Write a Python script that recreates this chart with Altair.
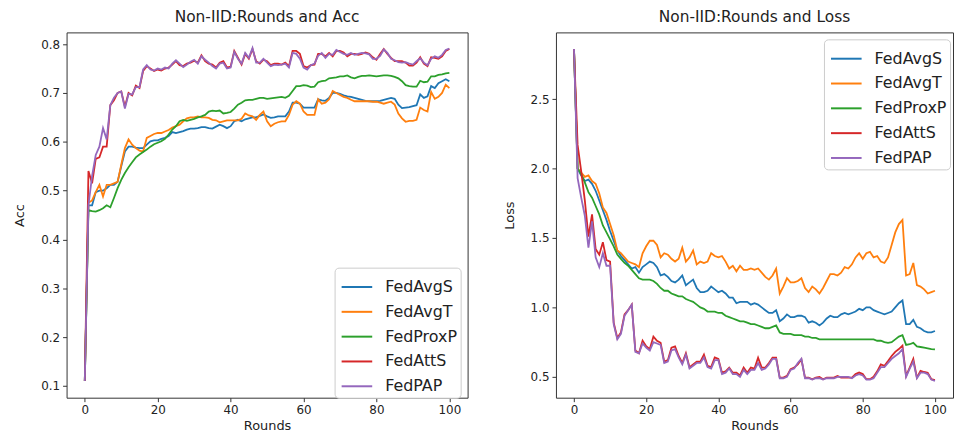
import altair as alt
import pandas as pd

rounds = list(range(101))
methods = ["FedAvgS", "FedAvgT", "FedProxP", "FedAttS", "FedPAP"]
colors = ["#1f77b4", "#ff7f0e", "#2ca02c", "#d62728", "#9467bd"]

acc_fedavgs = [0.11, 0.47, 0.47, 0.497, 0.50, 0.50, 0.505, 0.512, 0.512, 0.518,
               0.550, 0.580, 0.590, 0.590, 0.588, 0.587, 0.587, 0.594, 0.601, 0.603,
               0.603, 0.606, 0.608, 0.612, 0.620, 0.618, 0.620, 0.622, 0.625, 0.627,
               0.627, 0.628, 0.630, 0.630, 0.628, 0.627, 0.631, 0.635, 0.632, 0.628,
               0.632, 0.642, 0.645, 0.642, 0.646, 0.648, 0.650, 0.650, 0.653, 0.656,
               0.652, 0.649, 0.650, 0.652, 0.652, 0.652, 0.662, 0.680, 0.680, 0.678,
               0.670, 0.670, 0.670, 0.670, 0.687, 0.685, 0.684, 0.690, 0.700, 0.700,
               0.698, 0.695, 0.693, 0.692, 0.690, 0.688, 0.686, 0.684, 0.683, 0.683,
               0.683, 0.684, 0.686, 0.688, 0.690, 0.688, 0.676, 0.669, 0.670, 0.671,
               0.673, 0.675, 0.697, 0.690, 0.693, 0.714, 0.710, 0.720, 0.724, 0.728,
               0.724]
acc_fedavgt = [0.11, 0.475, 0.48, 0.497, 0.512, 0.488, 0.512, 0.512, 0.515, 0.518,
               0.553, 0.587, 0.605, 0.594, 0.587, 0.582, 0.580, 0.608, 0.612, 0.616,
               0.618, 0.618, 0.621, 0.624, 0.629, 0.632, 0.635, 0.642, 0.648, 0.650,
               0.650, 0.652, 0.650, 0.650, 0.649, 0.645, 0.644, 0.640, 0.642, 0.644,
               0.644, 0.644, 0.644, 0.647, 0.658, 0.654, 0.652, 0.645, 0.655, 0.662,
               0.642, 0.632, 0.637, 0.640, 0.642, 0.642, 0.655, 0.676, 0.683, 0.678,
               0.662, 0.655, 0.655, 0.655, 0.687, 0.678, 0.680, 0.687, 0.704, 0.700,
               0.696, 0.692, 0.690, 0.686, 0.683, 0.683, 0.683, 0.683, 0.683, 0.682,
               0.682, 0.680, 0.678, 0.680, 0.682, 0.676, 0.658, 0.648, 0.641, 0.643,
               0.643, 0.645, 0.670, 0.665, 0.662, 0.702, 0.688, 0.692, 0.700, 0.717,
               0.710]
acc_fedproxp = [0.11, 0.460, 0.458, 0.457, 0.460, 0.464, 0.470, 0.466, 0.485, 0.505,
                0.522, 0.536, 0.548, 0.558, 0.568, 0.574, 0.579, 0.584, 0.590, 0.595,
                0.598, 0.601, 0.606, 0.615, 0.625, 0.632, 0.642, 0.645, 0.643, 0.645,
                0.647, 0.650, 0.652, 0.655, 0.662, 0.664, 0.663, 0.664, 0.658, 0.659,
                0.661, 0.668, 0.676, 0.680, 0.685, 0.686, 0.686, 0.688, 0.690, 0.690,
                0.688, 0.689, 0.690, 0.691, 0.692, 0.690, 0.694, 0.704, 0.714, 0.714,
                0.716, 0.715, 0.712, 0.713, 0.722, 0.724, 0.725, 0.730, 0.731, 0.732,
                0.734, 0.734, 0.736, 0.732, 0.730, 0.733, 0.735, 0.735, 0.736, 0.735,
                0.734, 0.735, 0.736, 0.736, 0.735, 0.733, 0.730, 0.724, 0.716, 0.714,
                0.713, 0.713, 0.725, 0.722, 0.723, 0.734, 0.734, 0.737, 0.738, 0.740,
                0.741]
acc_fedatts = [0.11, 0.54, 0.515, 0.565, 0.568, 0.590, 0.590, 0.675, 0.685, 0.700,
               0.703, 0.672, 0.700, 0.695, 0.715, 0.710, 0.745, 0.755, 0.750, 0.745,
               0.748, 0.746, 0.750, 0.752, 0.758, 0.765, 0.757, 0.755, 0.760, 0.762,
               0.766, 0.762, 0.777, 0.765, 0.760, 0.758, 0.752, 0.762, 0.765, 0.752,
               0.754, 0.786, 0.772, 0.758, 0.780, 0.770, 0.790, 0.765, 0.760, 0.768,
               0.765, 0.757, 0.760, 0.760, 0.758, 0.762, 0.755, 0.786, 0.786, 0.780,
               0.755, 0.752, 0.757, 0.758, 0.780, 0.780, 0.775, 0.782, 0.775, 0.786,
               0.786, 0.783, 0.775, 0.780, 0.780, 0.778, 0.780, 0.783, 0.780, 0.773,
               0.768, 0.780, 0.790, 0.780, 0.772, 0.765, 0.765, 0.765, 0.762, 0.756,
               0.756, 0.762, 0.773, 0.760, 0.755, 0.773, 0.772, 0.770, 0.775, 0.786,
               0.790]
acc_fedpap = [0.11, 0.47, 0.53, 0.573, 0.59, 0.628, 0.605, 0.675, 0.69, 0.70,
              0.703, 0.668, 0.698, 0.697, 0.712, 0.712, 0.748, 0.757, 0.748, 0.746,
              0.750, 0.748, 0.752, 0.750, 0.760, 0.767, 0.760, 0.753, 0.758, 0.764,
              0.768, 0.760, 0.775, 0.768, 0.762, 0.755, 0.750, 0.760, 0.762, 0.750,
              0.752, 0.784, 0.770, 0.760, 0.782, 0.772, 0.792, 0.762, 0.762, 0.770,
              0.762, 0.755, 0.758, 0.757, 0.758, 0.760, 0.752, 0.782, 0.780, 0.770,
              0.752, 0.748, 0.757, 0.760, 0.776, 0.782, 0.772, 0.780, 0.778, 0.788,
              0.784, 0.780, 0.778, 0.782, 0.778, 0.780, 0.782, 0.781, 0.779, 0.770,
              0.770, 0.776, 0.789, 0.782, 0.770, 0.767, 0.763, 0.762, 0.763, 0.760,
              0.758, 0.765, 0.771, 0.762, 0.757, 0.770, 0.775, 0.772, 0.778, 0.788,
              0.791]

loss_fedavgs = [2.86, 2.00, 1.95, 1.91, 1.92, 1.89, 1.84, 1.77, 1.70, 1.63,
                1.55, 1.48, 1.41, 1.37, 1.34, 1.31, 1.28, 1.29, 1.25, 1.29,
                1.31, 1.33, 1.32, 1.29, 1.23, 1.24, 1.22, 1.19, 1.18, 1.20,
                1.23, 1.16, 1.18, 1.20, 1.14, 1.11, 1.11, 1.12, 1.15, 1.13,
                1.11, 1.12, 1.10, 1.07, 1.07, 1.03, 1.04, 1.04, 1.04, 1.02,
                1.03, 1.02, 1.00, 0.98, 0.96, 0.96, 0.98, 0.90, 0.92, 0.95,
                0.93, 0.93, 0.94, 0.94, 0.93, 0.89, 0.90, 0.89, 0.87, 0.89,
                0.92, 0.94, 0.93, 0.93, 0.95, 0.96, 0.95, 0.96, 0.97, 0.99,
                0.98, 1.00, 1.00, 0.98, 0.97, 0.96, 0.95, 0.96, 0.97, 1.00,
                1.03, 1.05, 0.88, 0.88, 0.91, 0.86, 0.85, 0.83, 0.82, 0.82,
                0.83]
loss_fedavgt = [2.86, 2.00, 1.97, 1.94, 1.95, 1.91, 1.89, 1.82, 1.72, 1.68,
                1.60, 1.52, 1.41, 1.39, 1.36, 1.33, 1.32, 1.31, 1.29, 1.39,
                1.44, 1.48, 1.48, 1.45, 1.36, 1.39, 1.38, 1.35, 1.33, 1.35,
                1.43, 1.33, 1.36, 1.41, 1.31, 1.33, 1.32, 1.33, 1.39, 1.37,
                1.36, 1.37, 1.33, 1.28, 1.30, 1.26, 1.30, 1.27, 1.27, 1.28,
                1.27, 1.28, 1.25, 1.22, 1.20, 1.23, 1.28, 1.10, 1.15, 1.21,
                1.18, 1.18, 1.19, 1.21, 1.14, 1.11, 1.15, 1.13, 1.10, 1.14,
                1.19, 1.24, 1.24, 1.23, 1.25, 1.29, 1.28, 1.31, 1.36, 1.39,
                1.35, 1.39, 1.40, 1.36, 1.37, 1.33, 1.32, 1.36, 1.45, 1.54,
                1.60, 1.63, 1.23, 1.24, 1.32, 1.16, 1.15, 1.13, 1.10, 1.11,
                1.12]
loss_fedproxp = [2.86, 2.00, 1.96, 1.90, 1.83, 1.79, 1.73, 1.67, 1.59, 1.54,
                 1.49, 1.44, 1.38, 1.35, 1.32, 1.30, 1.27, 1.24, 1.21, 1.20,
                 1.20, 1.20, 1.19, 1.17, 1.14, 1.12, 1.12, 1.10, 1.09, 1.08,
                 1.08, 1.06, 1.05, 1.04, 1.02, 1.00, 0.99, 0.97, 0.97, 0.97,
                 0.96, 0.96, 0.94, 0.93, 0.92, 0.91, 0.90, 0.90, 0.89, 0.88,
                 0.88, 0.87, 0.86, 0.85, 0.85, 0.86, 0.87, 0.82, 0.81, 0.81,
                 0.81, 0.80, 0.80, 0.80, 0.79, 0.79, 0.78, 0.78, 0.77, 0.77,
                 0.77, 0.77, 0.77, 0.77, 0.77, 0.77, 0.77, 0.77, 0.77, 0.77,
                 0.77, 0.77, 0.77, 0.77, 0.76, 0.76, 0.75, 0.745, 0.75, 0.77,
                 0.79, 0.80, 0.73, 0.735, 0.745, 0.72, 0.715, 0.71, 0.705, 0.70,
                 0.698]
loss_fedatts = [2.86, 2.17, 1.98, 1.77, 1.51, 1.67, 1.42, 1.38, 1.47, 1.34,
                1.33, 0.89, 0.78, 0.82, 0.95, 0.98, 1.02, 0.69, 0.67, 0.76,
                0.72, 0.70, 0.79, 0.76, 0.745, 0.61, 0.62, 0.71, 0.72, 0.65,
                0.60, 0.67, 0.57, 0.59, 0.61, 0.61, 0.66, 0.58, 0.57, 0.64,
                0.63, 0.53, 0.54, 0.567, 0.53, 0.53, 0.51, 0.567, 0.53, 0.567,
                0.56, 0.638, 0.567, 0.567, 0.60, 0.638, 0.638, 0.495, 0.495, 0.507,
                0.555, 0.567, 0.59, 0.626, 0.495, 0.495, 0.483, 0.495, 0.50, 0.483,
                0.495, 0.495, 0.495, 0.507, 0.495, 0.495, 0.495, 0.495, 0.52, 0.531,
                0.52, 0.483, 0.483, 0.50, 0.54, 0.59, 0.58, 0.614, 0.65, 0.68,
                0.70, 0.725, 0.507, 0.567, 0.63, 0.495, 0.543, 0.535, 0.53, 0.483,
                0.476]
loss_fedpap = [2.86, 1.93, 1.79, 1.66, 1.43, 1.62, 1.36, 1.29, 1.39, 1.30,
               1.30, 0.88, 0.77, 0.81, 0.94, 0.98, 1.02, 0.68, 0.67, 0.74,
               0.71, 0.69, 0.75, 0.74, 0.73, 0.60, 0.61, 0.69, 0.70, 0.64,
               0.59, 0.66, 0.56, 0.58, 0.60, 0.60, 0.64, 0.57, 0.56, 0.62,
               0.62, 0.52, 0.53, 0.56, 0.52, 0.52, 0.50, 0.55, 0.52, 0.55,
               0.55, 0.60, 0.55, 0.56, 0.59, 0.63, 0.63, 0.49, 0.49, 0.50,
               0.55, 0.56, 0.60, 0.63, 0.49, 0.49, 0.48, 0.49, 0.49, 0.48,
               0.49, 0.49, 0.49, 0.50, 0.50, 0.50, 0.50, 0.49, 0.51, 0.52,
               0.51, 0.48, 0.48, 0.49, 0.53, 0.57, 0.57, 0.60, 0.63, 0.65,
               0.67, 0.70, 0.50, 0.56, 0.61, 0.49, 0.53, 0.53, 0.52, 0.48,
               0.47]

acc_ticks = [0.1, 0.2, 0.3, 0.4, 0.5, 0.6, 0.7, 0.8]
loss_ticks = [0.5, 1.0, 1.5, 2.0, 2.5]
x_ticks = [0, 20, 40, 60, 80, 100]


def long_df(series):
    rows = []
    for m, vals in zip(methods, series):
        for r, v in zip(rounds, vals):
            rows.append({"Rounds": r, "value": v, "method": m})
    return pd.DataFrame(rows)


acc_df = long_df([acc_fedavgs, acc_fedavgt, acc_fedproxp, acc_fedatts, acc_fedpap])
loss_df = long_df([loss_fedavgs, loss_fedavgt, loss_fedproxp, loss_fedatts, loss_fedpap])


def panel(df, title, ytitle, ydomain, yticks, lx, ly, w):
    return alt.Chart(
        df,
        title=alt.TitleParams(title, fontSize=15.5, fontWeight="normal", offset=7,
                              color="#222", frame="group", anchor="middle"),
    ).mark_line(strokeWidth=1.8).encode(
        x=alt.X("Rounds:Q",
                scale=alt.Scale(domain=[-5, 105], nice=False, zero=False),
                axis=alt.Axis(values=x_ticks, title="Rounds")),
        y=alt.Y("value:Q",
                scale=alt.Scale(domain=ydomain, nice=False, zero=False),
                axis=alt.Axis(values=yticks, format=".1f", title=ytitle, titlePadding=14)),
        color=alt.Color("method:N",
                        scale=alt.Scale(domain=methods, range=colors),
                        legend=alt.Legend(title=None, orient="none", legendX=lx, legendY=ly)),
    ).properties(width=w, height=368)


left = panel(acc_df, "Non-IID:Rounds and Acc", "Acc", [0.076, 0.824], acc_ticks, 270, 237, 404)
right = panel(loss_df, "Non-IID:Rounds and Loss", "Loss", [0.35, 2.98], loss_ticks, 270, 7, 400)

chart = alt.hconcat(left, right, spacing=34).resolve_scale(
    color="independent"
).resolve_legend(color="independent").configure(
    font="DejaVu Sans", padding={"left": 5, "top": 0, "right": 0, "bottom": 0}
).configure_view(
    stroke="#333", strokeWidth=1
).configure_axis(
    grid=False, domain=False, tickColor="#333", tickSize=4,
    labelFontSize=12, labelColor="#222", titleFontSize=13, titleFontWeight="normal",
    titleColor="#222", labelPadding=3
).configure_legend(
    symbolType="stroke", symbolStrokeWidth=2, symbolSize=950, symbolOffset=3,
    labelFontSize=16, labelColor="#222", strokeColor="#ccc", fillColor="white",
    cornerRadius=4, padding=3, rowPadding=-3.5, labelOffset=12
)

chart.save("out.html", embed_options={"renderer": "svg", "actions": False})
